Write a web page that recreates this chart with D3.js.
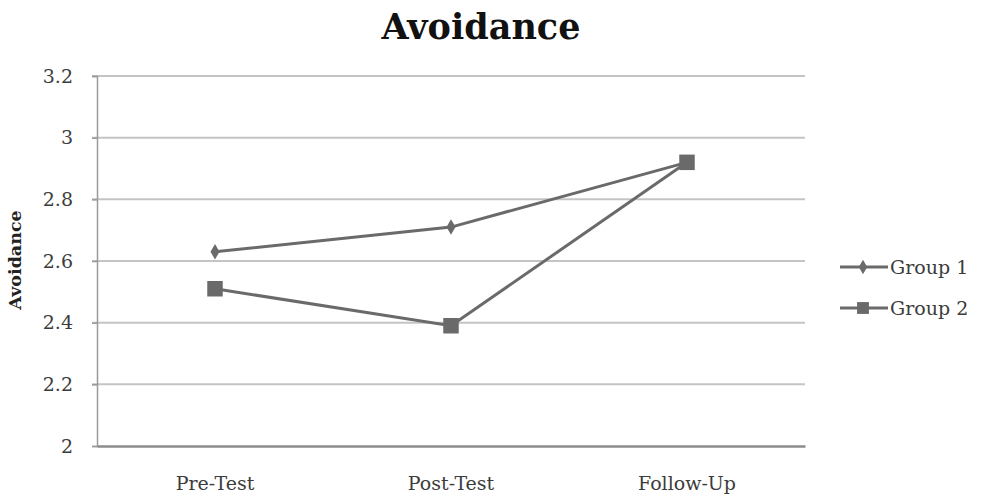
<!DOCTYPE html>
<html>
<head>
<meta charset="utf-8">
<script src="https://cdn.jsdelivr.net/npm/d3@7"></script>
<style>
  html, body { margin: 0; padding: 0; background: #fff; }
  svg { display: block; }
</style>
</head>
<body>
<svg id="chart" width="982" height="497"></svg>
<script>
// Data
const categories = ["Pre-Test", "Post-Test", "Follow-Up"];
const group1 = [2.63, 2.71, 2.92];
const group2 = [2.51, 2.39, 2.92];
const seriesNames = ["Group 1", "Group 2"];
const yTicks = [2, 2.2, 2.4, 2.6, 2.8, 3, 3.2];

const svg = d3.select("#chart");
const font = "'DejaVu Serif', 'Liberation Serif', serif";
const lineColor = "#6a6a6a";
const gridColor = "#c4c4c4";
const textColor = "#3c3c3c";

const m = { left: 97, right: 805, top: 76, bottom: 446 };

const x = d3.scaleBand().domain(categories).range([m.left, m.right]);
const y = d3.scaleLinear().domain([2, 3.2]).range([m.bottom, m.top]);

// Gridlines
svg.append("g")
  .selectAll("line")
  .data(yTicks.filter(d => d !== 2))
  .join("line")
  .attr("x1", m.left - 5).attr("x2", m.right)
  .attr("y1", d => y(d)).attr("y2", d => y(d))
  .attr("stroke", gridColor).attr("stroke-width", 2);

// Y axis
const yAxis = svg.append("g")
  .attr("transform", `translate(${m.left},0)`)
  .call(d3.axisLeft(y).tickValues(yTicks).tickSize(5).tickPadding(19)
    .tickFormat(d => d3.format("")(+d.toFixed(1))));
yAxis.select(".domain").attr("stroke", "#9a9a9a").attr("stroke-width", 1.5);
yAxis.selectAll(".tick line").attr("stroke", "#9a9a9a").attr("stroke-width", 1.5);
yAxis.selectAll("text")
  .attr("font-family", font).attr("font-size", 19).attr("fill", textColor);

// X axis
const xAxis = svg.append("g")
  .attr("transform", `translate(0,${m.bottom})`)
  .call(d3.axisBottom(x).tickSize(0).tickPadding(31));
xAxis.select(".domain").attr("stroke", "#8c8c8c").attr("stroke-width", 2.5);
xAxis.selectAll("text")
  .attr("font-family", font).attr("font-size", 19).attr("fill", textColor);

const cx = d => x(d) + x.bandwidth() / 2;
const line = d3.line().x((d, i) => cx(categories[i])).y(d => y(d));

// Lines
[group1, group2].forEach(vals => {
  svg.append("path")
    .datum(vals)
    .attr("d", line)
    .attr("fill", "none")
    .attr("stroke", lineColor)
    .attr("stroke-width", 3);
});

// Markers
const diamond = d3.symbol().type(d3.symbolDiamond).size(70);
const square = d3.symbol().type(d3.symbolSquare).size(240);

svg.append("g").selectAll("path")
  .data(group1)
  .join("path")
  .attr("d", diamond)
  .attr("transform", (d, i) => `translate(${cx(categories[i])},${y(d)})`)
  .attr("fill", lineColor);

svg.append("g").selectAll("path")
  .data(group2)
  .join("path")
  .attr("d", square)
  .attr("transform", (d, i) => `translate(${cx(categories[i])},${y(d)})`)
  .attr("fill", lineColor);

// Legend
const legend = svg.append("g");
const legY = [267, 308];
seriesNames.forEach((name, i) => {
  const g = legend.append("g").attr("transform", `translate(0,${legY[i]})`);
  g.append("line").attr("x1", 840).attr("x2", 888)
    .attr("stroke", lineColor).attr("stroke-width", 3);
  g.append("path")
    .attr("d", i === 0 ? d3.symbol().type(d3.symbolDiamond).size(60)() : d3.symbol().type(d3.symbolSquare).size(140)())
    .attr("transform", "translate(863,0)")
    .attr("fill", lineColor);
  g.append("text").attr("x", 890).attr("y", 7)
    .attr("font-family", font).attr("font-size", 19).attr("fill", textColor)
    .text(name);
});

// Title
svg.append("text")
  .attr("x", 481).attr("y", 39)
  .attr("text-anchor", "middle")
  .attr("font-family", font).attr("font-weight", "bold").attr("font-size", 35)
  .attr("fill", "#111")
  .text("Avoidance");

// Y axis title
svg.append("text")
  .attr("transform", "translate(21,260) rotate(-90)")
  .attr("text-anchor", "middle")
  .attr("font-family", font).attr("font-weight", "bold").attr("font-size", 17.5)
  .attr("fill", "#222")
  .text("Avoidance");
</script>
</body>
</html>
